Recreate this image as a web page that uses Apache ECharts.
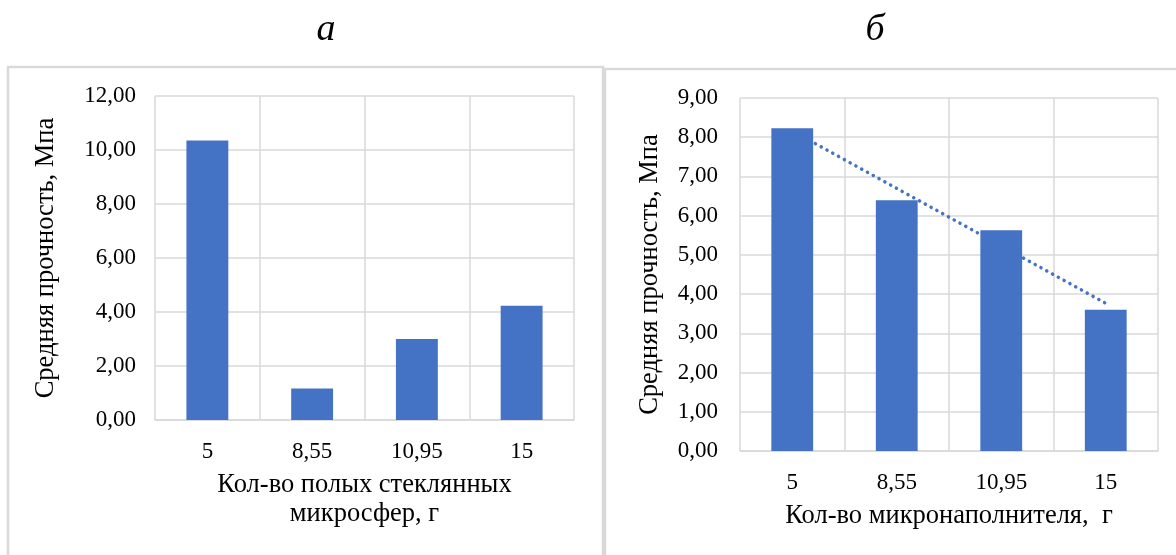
<!DOCTYPE html>
<html>
<head>
<meta charset="utf-8">
<script src="https://cdn.jsdelivr.net/npm/echarts@6/dist/echarts.min.js"></script>
<style>
  html, body { margin: 0; padding: 0; background: #ffffff; }
  #chart { width: 1176px; height: 555px; }
</style>
</head>
<body>
<div id="chart"></div>
<script>
// Categories: amount of additive, g
const categories = ['5', '8,55', '10,95', '15'];

// Panel "а": hollow glass microspheres
const strengthA = [10.35, 1.17, 3.00, 4.23];
// Panel "б": micro-filler
const strengthB = [8.23, 6.39, 5.63, 3.60];

const panelTitles = ['а', 'б'];
const yTitle = 'Средняя прочность, Мпа';
const xTitleA = 'Кол-во полых стеклянных\nмикросфер, г';
const xTitleB = 'Кол-во микронаполнителя,  г';

// Linear least-squares trendline over category index (1..n), as a spreadsheet would draw it
function linearTrend(values) {
  const n = values.length;
  const xs = values.map((_, i) => i + 1);
  const mx = xs.reduce((a, b) => a + b, 0) / n;
  const my = values.reduce((a, b) => a + b, 0) / n;
  let sxy = 0, sxx = 0;
  for (let i = 0; i < n; i++) {
    sxy += (xs[i] - mx) * (values[i] - my);
    sxx += (xs[i] - mx) * (xs[i] - mx);
  }
  const k = sxy / sxx;
  return xs.map(x => my + k * (x - mx));
}
const trendB = linearTrend(strengthB);

const FONT = '"Liberation Serif", "Times New Roman", serif';
const BAR = '#4472C4';
const GRID_LINE = '#d9d9d9';

function fmt(v) { return v.toFixed(2).replace('.', ','); }

const chart = echarts.init(document.getElementById('chart'), null, { renderer: 'canvas' });

const xAxisBase = {
  type: 'category',
  data: categories,
  axisTick: { show: false },
  axisLine: { show: true, lineStyle: { color: GRID_LINE, width: 1.5 } },
  splitLine: { show: true, interval: 0, lineStyle: { color: GRID_LINE, width: 1.5 } },
  axisLabel: { color: '#000', fontFamily: FONT, fontSize: 23, margin: 20, interval: 0 },
  nameLocation: 'middle',
  nameGap: 50,
  nameTextStyle: { color: '#000', fontFamily: FONT, fontSize: 26.5, lineHeight: 29 }
};

const yAxisBase = {
  type: 'value',
  min: 0,
  axisLine: { show: false },
  axisTick: { show: false },
  splitLine: { show: true, lineStyle: { color: GRID_LINE, width: 1.5 } },
  axisLabel: { color: '#000', fontFamily: FONT, fontSize: 23, formatter: fmt },
  name: yTitle,
  nameLocation: 'middle',
  nameRotate: 90,
  nameTextStyle: { color: '#000', fontFamily: FONT, fontSize: 26.5 }
};

chart.setOption({
  animation: false,
  backgroundColor: '#ffffff',
  title: [
    { text: panelTitles[0], left: 321, top: 25, textAlign: 'center', textVerticalAlign: 'middle',
      textStyle: { fontFamily: FONT, fontStyle: 'italic', fontWeight: 'normal', fontSize: 38, color: '#000' } },
    { text: panelTitles[1], left: 870, top: 25, textAlign: 'center', textVerticalAlign: 'middle',
      textStyle: { fontFamily: FONT, fontStyle: 'italic', fontWeight: 'normal', fontSize: 38, color: '#000' } }
  ],
  graphic: [
    { type: 'rect', silent: true, z: -1,
      shape: { x: 8, y: 67, width: 595, height: 500 },
      style: { fill: 'none', stroke: GRID_LINE, lineWidth: 2.5 } },
    { type: 'rect', silent: true, z: -1,
      shape: { x: 605, y: 69, width: 600, height: 500 },
      style: { fill: 'none', stroke: GRID_LINE, lineWidth: 2.5 } }
  ],
  grid: [
    { left: 155, top: 96, width: 419, height: 324 },
    { left: 740, top: 98, width: 418, height: 353 }
  ],
  xAxis: [
    Object.assign({}, xAxisBase, { gridIndex: 0, name: xTitleA, nameGap: 51 }),
    Object.assign({}, xAxisBase, { gridIndex: 1, name: xTitleB, nameGap: 51 })
  ],
  yAxis: [
    Object.assign({}, yAxisBase, { gridIndex: 0, max: 12, interval: 2, nameGap: 95,
      axisLabel: Object.assign({}, yAxisBase.axisLabel, { margin: 19 }) }),
    Object.assign({}, yAxisBase, { gridIndex: 1, max: 9, interval: 1, nameGap: 76,
      axisLabel: Object.assign({}, yAxisBase.axisLabel, { margin: 22 }) })
  ],
  series: [
    { type: 'bar', xAxisIndex: 0, yAxisIndex: 0, data: strengthA, barWidth: '40%',
      itemStyle: { color: BAR }, z: 3 },
    { type: 'line', xAxisIndex: 1, yAxisIndex: 1, data: trendB, symbol: 'none', z: 1,
      lineStyle: { color: BAR, width: 3.5, type: [0.1, 6.5], cap: 'round' } },
    { type: 'bar', xAxisIndex: 1, yAxisIndex: 1, data: strengthB, barWidth: '40%',
      itemStyle: { color: BAR }, z: 3 }
  ]
});
</script>
</body>
</html>
